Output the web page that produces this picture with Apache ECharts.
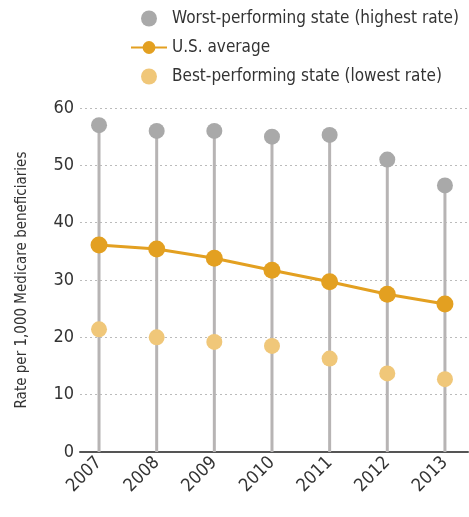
<!DOCTYPE html>
<html>
<head>
<meta charset="utf-8">
<script src="https://cdn.jsdelivr.net/npm/echarts@6/dist/echarts.min.js"></script>
<style>
  html, body { margin: 0; padding: 0; background: #fff; }
  #chart { width: 469px; height: 517px; }
</style>
</head>
<body>
<div id="chart"></div>
<script>
var years = [2007, 2008, 2009, 2010, 2011, 2012, 2013]
var worst = [57.0, 56.0, 56.0, 55.0, 55.3, 51.0, 46.5]
var usAvg = [36.1, 35.4, 33.8, 31.7, 29.7, 27.5, 25.8]
var best = [21.4, 20.0, 19.2, 18.5, 16.3, 13.7, 12.7]
var yTicks = [0, 10, 20, 30, 40, 50, 60]

var FONT = '"Liberation Sans Narrow", "DejaVu Sans Condensed", Roboto, sans-serif'

function pairs(vals) {
    return years.map(function (y, i) { return [y, vals[i]] })
}

var chart = echarts.init(document.getElementById('chart'))

var option = {
    animation: false,
    textStyle: { fontFamily: FONT },
    legend: {
        orient: 'vertical',
        left: 125,
        top: 5,
        itemWidth: 36,
        itemHeight: 16,
        itemGap: 12,
        selectedMode: false,
        textStyle: { fontSize: 17, color: '#333', fontFamily: FONT },
        data: ['Worst-performing state (highest rate)', 'U.S. average', 'Best-performing state (lowest rate)']
    },
    grid: {
        left: 80,
        right: 1,
        top: 108,
        bottom: 65
    },
    xAxis: {
        type: 'value',
        min: 2006.67,
        max: 2013.4,
        splitLine: { show: false },
        axisTick: { show: false },
        axisLine: { show: true, onZero: false, lineStyle: { color: '#555', width: 2 } },
        axisLabel: {
            customValues: years,
            rotate: 45,
            margin: 8,
            fontSize: 18,
            color: '#333',
            fontFamily: FONT,
            formatter: function (v) { return String(v) }
        }
    },
    yAxis: {
        type: 'value',
        min: 0,
        max: 60,
        interval: 10,
        name: 'Rate per 1,000 Medicare beneficiaries',
        nameLocation: 'middle',
        nameRotate: 90,
        nameGap: 50,
        nameTextStyle: { fontSize: 15, color: '#333', fontFamily: FONT },
        axisLine: { show: false },
        axisTick: { show: false },
        axisLabel: {
            customValues: yTicks,
            fontSize: 18,
            color: '#333',
            margin: 6,
            fontFamily: FONT
        },
        splitLine: {
            show: true,
            lineStyle: { color: '#bbb', type: [2, 3], width: 1 }
        }
    },
    series: [{
        name: 'stems',
        type: 'custom',
        z: 1,
        silent: true,
        data: pairs(worst),
        renderItem: function (params, api) {
            var x = api.value(0)
            var top = api.coord([x, api.value(1)])
            var bot = api.coord([x, 0])
            return {
                type: 'line',
                shape: { x1: top[0], y1: top[1], x2: bot[0], y2: bot[1] },
                style: { stroke: '#b7b4b4', lineWidth: 3 }
            }
        }
    }, {
        name: 'Worst-performing state (highest rate)',
        type: 'scatter',
        z: 3,
        symbolSize: 16,
        itemStyle: { color: '#a9a9a9', opacity: 1 },
        data: pairs(worst)
    }, {
        name: 'U.S. average',
        type: 'line',
        z: 4,
        symbol: 'circle',
        symbolSize: 17,
        showSymbol: true,
        lineStyle: { color: '#e3a021', width: 3 },
        itemStyle: { color: '#e3a021' },
        data: pairs(usAvg)
    }, {
        name: 'Best-performing state (lowest rate)',
        type: 'scatter',
        z: 3,
        symbolSize: 16,
        itemStyle: { color: '#f0c779', opacity: 1 },
        data: pairs(best)
    }]
}

chart.setOption(option)
</script>
</body>
</html>
